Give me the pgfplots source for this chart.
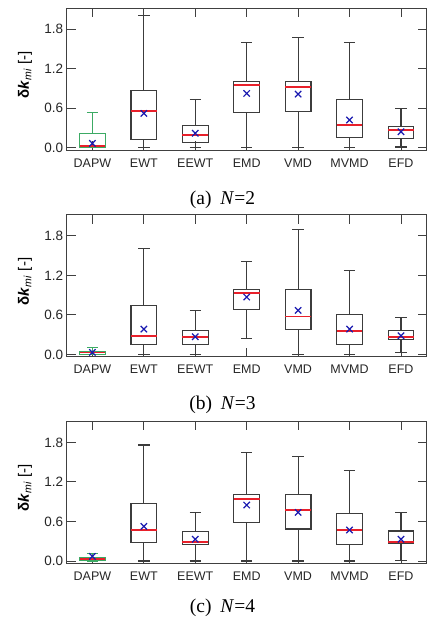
\documentclass[border=0pt]{standalone}
\usepackage{fontspec}
\setmainfont{Liberation Sans}
\newfontfamily\capfont{Liberation Serif}
\usepackage{pgfplots}
\pgfplotsset{compat=1.18}
\usepgfplotslibrary{statistics}

\definecolor{axgray}{HTML}{404040}
\definecolor{boxgray}{HTML}{3C3C3C}
\definecolor{medred}{HTML}{E8202A}
\definecolor{dgreen}{HTML}{3CAA64}
\definecolor{meanblue}{HTML}{1A1AB0}

% pos, lower whisker, lower quartile, median, upper quartile, upper whisker
\newcommand{\bx}[7][boxgray]{%
  \addplot[draw=#1, line width=1.1pt, solid,
    boxplot prepared={draw position=#2, lower whisker=#3, lower quartile=#4,
      median=#5, upper quartile=#6, upper whisker=#7}] coordinates {};}

\pgfplotsset{
  kplot/.style={
    scale only axis, width=360pt, height=142pt,
    xmin=0.5, xmax=7.5, ymin=-0.035, ymax=2.12,
    axis line style={axgray, line width=0.9pt},
    tick style={axgray, line width=0.9pt},
    tick align=inside, major tick length=9pt,
    xtick={1,...,7},
    xticklabels={DAPW,EWT,EEWT,EMD,VMD,MVMD,EFD},
    ytick={0,0.6,1.2,1.8},
    yticklabel style={/pgf/number format/fixed, /pgf/number format/fixed zerofill,
      /pgf/number format/precision=1, /pgf/number format/assume math mode=true,
      font=\fontsize{13.5}{15}\selectfont, text=black!85},
    xticklabel style={font=\fontsize{12.5}{14}\selectfont, text=black!85, yshift=-5pt},
    ylabel={\textbf{δ\textit{k}}\textsubscript{\textit{mi}} [-]},
    ylabel style={at={(axis description cs:-0.116,0.53)}, anchor=center, font=\fontsize{15}{17}\selectfont},
    boxplot/draw direction=y,
    boxplot/box extend=0.5,
    boxplot/whisker extend=0.22,
    boxplot/every median/.style={draw=medred, line width=1.8pt},
    clip=false,
  },
  meanx/.style={only marks, mark=x, mark size=4.5pt, draw=meanblue, line width=1.2pt},
}

\begin{document}
\begin{tikzpicture}
\useasboundingbox (0,0) rectangle (427pt,-621pt);

% (a) N=2
\begin{axis}[kplot, at={(66.7pt,-8pt)}, anchor=north west]
\bx[dgreen]{1}{0}{0.01}{0.025}{0.217}{0.536}
\bx{2}{0}{0.126}{0.56}{0.87}{2.0}
\bx{3}{0}{0.076}{0.19}{0.334}{0.728}
\bx{4}{0}{0.536}{0.955}{1.006}{1.60}
\bx{5}{0}{0.546}{0.925}{1.0}{1.668}
\bx{6}{0}{0.157}{0.349}{0.733}{1.60}
\bx{7}{0.01}{0.137}{0.263}{0.318}{0.597}
\addplot[meanx] coordinates {(1,0.066) (2,0.52) (3,0.22) (4,0.824) (5,0.814) (6,0.42) (7,0.243)};
\end{axis}
\node[anchor=base, font=\capfont\fontsize{19.5}{22}\selectfont] at (222.5pt,-204pt) {(a)\hspace{0.45em}\textit{N}=2};

% (b) N=3
\begin{axis}[kplot, at={(66.7pt,-214.7pt)}, anchor=north west]
\bx[dgreen]{1}{0}{0.005}{0.03}{0.05}{0.101}
\bx{2}{0}{0.146}{0.278}{0.743}{1.608}
\bx{3}{0}{0.152}{0.268}{0.359}{0.667}
\bx{4}{0.248}{0.688}{0.93}{0.981}{1.416}
\bx{5}{0}{0.374}{0.576}{0.986}{1.896}
\bx{6}{0}{0.157}{0.359}{0.612}{1.274}
\bx{7}{0.035}{0.228}{0.268}{0.364}{0.566}
\addplot[meanx] coordinates {(1,0.03) (2,0.384) (3,0.268) (4,0.87) (5,0.667) (6,0.384) (7,0.283)};
\end{axis}
\node[anchor=base, font=\capfont\fontsize{19.5}{22}\selectfont] at (222.5pt,-409pt) {(b)\hspace{0.45em}\textit{N}=3};

% (c) N=4
\begin{axis}[kplot, at={(66.7pt,-421.3pt)}, anchor=north west]
\bx[dgreen]{1}{0}{0.01}{0.03}{0.056}{0.111}
\bx{2}{0}{0.278}{0.465}{0.87}{1.76}
\bx{3}{0}{0.248}{0.283}{0.445}{0.738}
\bx{4}{0}{0.581}{0.935}{1.006}{1.653}
\bx{5}{0}{0.485}{0.768}{1.006}{1.582}
\bx{6}{0}{0.253}{0.47}{0.718}{1.38}
\bx{7}{0.01}{0.268}{0.283}{0.455}{0.733}
\addplot[meanx] coordinates {(1,0.07) (2,0.526) (3,0.329) (4,0.849) (5,0.738) (6,0.47) (7,0.329)};
\end{axis}
\node[anchor=base, font=\capfont\fontsize{19.5}{22}\selectfont] at (222.5pt,-612pt) {(c)\hspace{0.45em}\textit{N}=4};
\end{tikzpicture}
\end{document}
